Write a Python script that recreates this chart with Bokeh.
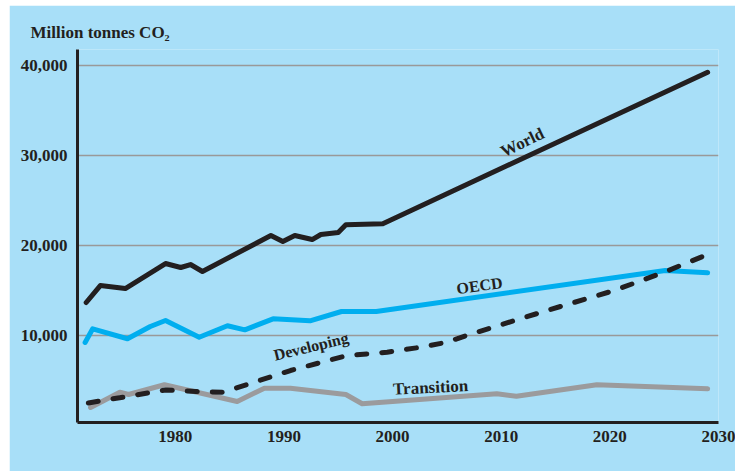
from bokeh.plotting import figure
from bokeh.models import Range1d, Label, FixedTicker, NumeralTickFormatter
from bokeh.embed import file_html
from bokeh.resources import INLINE

# CO2 emissions by region, million tonnes (history and projection to 2030)
world_years = [1971.8, 1973.1, 1975.4, 1979.1, 1980.5, 1981.4, 1982.5, 1988.8,
               1989.9, 1991.0, 1992.6, 1993.4, 1995.0, 1995.7, 1999.1, 2029.0]
world = [13670, 15550, 15220, 17990, 17550, 17880, 17110, 21100,
         20430, 21100, 20650, 21210, 21430, 22300, 22410, 39200]

oecd_years = [1971.7, 1972.4, 1975.6, 1977.7, 1979.1, 1982.2, 1984.8, 1986.4,
              1989.0, 1992.4, 1995.3, 1998.5, 2025.1, 2029.0]
oecd = [9240, 10750, 9650, 11010, 11670, 9820, 11090, 10640,
        11860, 11640, 12670, 12670, 17220, 16960]

developing_years = [1972.0, 1979.1, 1981.9, 1984.4, 1987.1, 1990.6, 1995.8, 1999.5,
                    2002.6, 2005.0, 2006.8, 2014.2, 2020.4, 2025.0, 2029.1]
developing = [2530, 3970, 3800, 3720, 4770, 6130, 7790, 8160,
              8710, 9270, 10010, 12780, 15000, 17030, 19050]

transition_years = [1972.2, 1974.9, 1975.7, 1979.0, 1985.7, 1988.2, 1990.6,
                    1995.7, 1997.2, 2009.6, 2011.4, 2018.8, 2029.0]
transition = [2030, 3720, 3470, 4550, 2690, 4170, 4170,
              3470, 2440, 3550, 3280, 4550, 4100]

x_ticks = [1980, 1990, 2000, 2010, 2020, 2030]
y_ticks = [10000, 20000, 30000, 40000]

BLUE = "#a8dff8"
INK = "#231f20"
CYAN = "#00aeef"
GREY = "#9b9b9d"
FONT = "Liberation Serif"

p = figure(width=726, height=466, output_backend="svg", toolbar_location=None,
           x_range=Range1d(1971, 2030), y_range=Range1d(366, 41720),
           min_border_left=68, min_border_right=17, min_border_top=44,
           min_border_bottom=49, background_fill_color=BLUE,
           border_fill_color=BLUE, outline_line_color=None,
           margin=(5, 0, 0, 9))

# unit heading above the frame, left of the value axis
p.title.text = "Million tonnes CO\u2082"
p.title.align = "left"
p.title.offset = -47
p.title.standoff = 16
p.title.text_font = FONT
p.title.text_font_style = "bold"
p.title.text_font_size = "17px"
p.title.text_color = INK

for ax in (p.xaxis[0], p.yaxis[0]):
    ax.axis_line_width = 3
    ax.axis_line_color = INK
    ax.major_tick_line_color = None
    ax.minor_tick_line_color = None
    ax.major_tick_out = 0
    ax.major_tick_in = 0
    ax.major_label_text_font = FONT
    ax.major_label_text_font_style = "bold"
    ax.major_label_text_font_size = "17px"
    ax.major_label_text_color = INK

p.xaxis.ticker = FixedTicker(ticks=x_ticks)
p.xaxis.major_label_standoff = 8
p.yaxis.ticker = FixedTicker(ticks=y_ticks)
p.yaxis.formatter = NumeralTickFormatter(format="0,0")
p.yaxis.major_label_standoff = 10

p.xgrid.grid_line_color = None
p.ygrid.ticker = FixedTicker(ticks=y_ticks)
p.ygrid.grid_line_color = "#999999"
p.ygrid.grid_line_width = 1.5

p.line(transition_years, transition, line_color=GREY, line_width=5,
       line_join="round", line_cap="round")
p.line(oecd_years, oecd, line_color=CYAN, line_width=5,
       line_join="round", line_cap="round")
p.line(developing_years, developing, line_color=INK, line_width=5,
       line_dash="10 15", line_join="round", line_cap="round")
p.line(world_years, world, line_color=INK, line_width=5,
       line_join="round", line_cap="round")

def tag(x, y, text, angle=0.0, size="16px"):
    p.add_layout(Label(x=x, y=y, text=text, angle=angle, text_align="center",
                       text_baseline="middle", text_font=FONT,
                       text_font_style="bold", text_font_size=size,
                       text_color=INK))

tag(2011.95, 31410, "World", angle=0.45, size="17px")
tag(2008.0, 15550, "OECD", angle=0.14)
tag(1992.5, 8800, "Developing", angle=0.24)
tag(2003.5, 4250, "Transition", angle=0.05, size="17px")

open("out.html", "w").write(file_html(p, INLINE))
